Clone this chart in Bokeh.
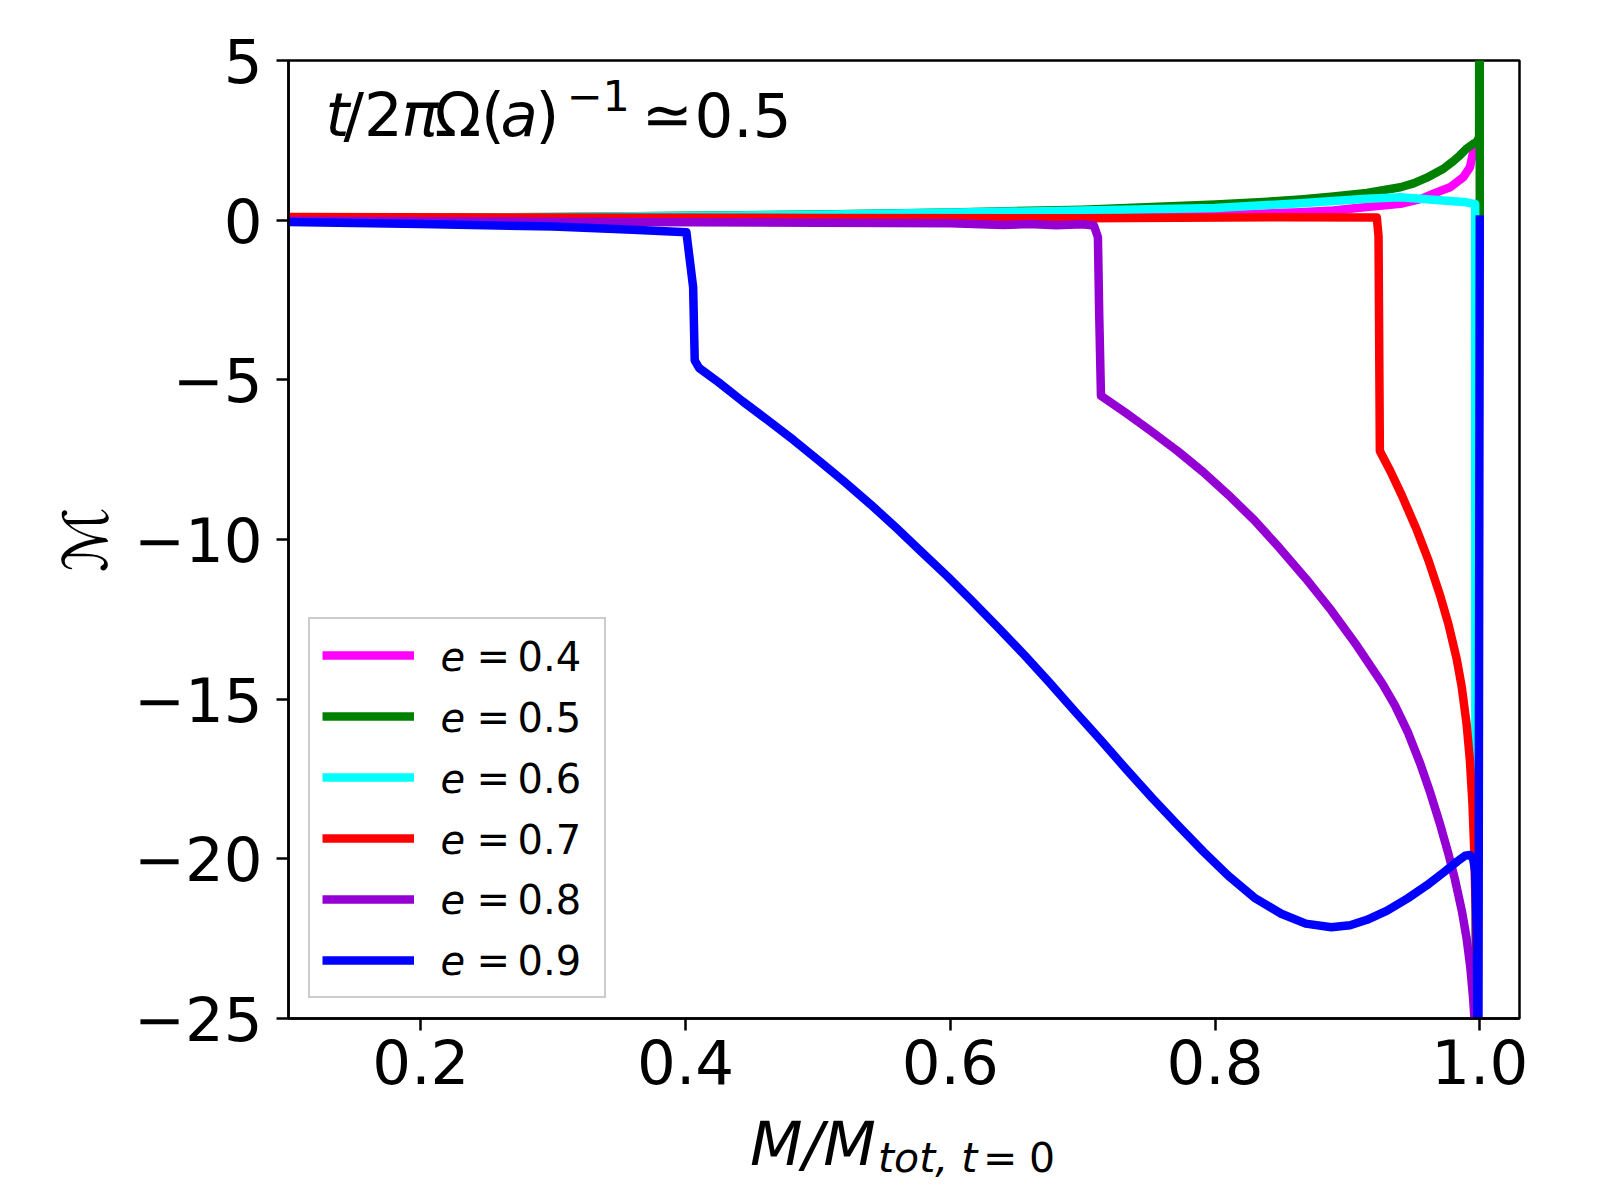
from bokeh.plotting import figure
from bokeh.models import FixedTicker, Label, Legend, LegendItem, Range1d, Div
from bokeh.layouts import column
from bokeh.embed import file_html
from bokeh.resources import INLINE

# ---------------- data ----------------
e_values = ["0.4", "0.5", "0.6", "0.7", "0.8", "0.9"]
e_colors = ["#ff00ff", "#008000", "#00ffff", "#ff0000", "#9400d3", "#0000ff"]

m04_x = [0.1, 0.4, 0.6, 0.75, 0.82, 0.8644, 0.8895, 0.9147, 0.94, 0.955, 0.965, 0.9775, 0.9876, 0.9926, 0.995, 0.997]
m04_y = [0.02, 0.05, 0.08, 0.13, 0.18, 0.25, 0.30, 0.41, 0.51, 0.66, 0.83, 1.03, 1.35, 1.66, 2.13, 2.40]

m05_x = [0.1, 0.3, 0.5, 0.6, 0.7, 0.8, 0.84, 0.8644, 0.8895, 0.9147, 0.94, 0.95, 0.96, 0.9725, 0.98, 0.985, 0.99,
         0.995, 0.9975, 0.9995, 0.9998, 1.0]
m05_y = [0.03, 0.10, 0.18, 0.24, 0.33, 0.49, 0.58, 0.65, 0.74, 0.85, 1.03, 1.15, 1.33, 1.61, 1.85, 2.03, 2.24,
         2.39, 2.44, 2.6, 40.0, 0.1]

m06_x = [0.1, 0.3, 0.5, 0.7, 0.8, 0.8644, 0.8895, 0.9147, 0.94, 0.965, 0.99, 0.9965, 0.9968]
m06_y = [0.05, 0.10, 0.17, 0.30, 0.38, 0.53, 0.60, 0.67, 0.72, 0.64, 0.56, 0.50, -30.0]

m07_x = [0.1, 0.3, 0.5, 0.7, 0.85, 0.9222, 0.9235, 0.9245, 0.9322, 0.9411, 0.9524, 0.9612, 0.970, 0.9763, 0.9826,
         0.9863, 0.9901, 0.9925, 0.9945, 0.9958, 0.9968, 0.9978, 0.9985]
m07_y = [0.10, 0.08, 0.07, 0.06, 0.09, 0.08, -0.5, -7.23, -7.84, -8.62, -9.70, -10.65, -11.75, -12.65, -13.75,
         -14.6, -15.8, -16.9, -18.3, -19.7, -21.5, -26.0, -30.0]

m08_x = [0.1, 0.3, 0.5, 0.6, 0.64, 0.66, 0.68, 0.70, 0.7085, 0.7115, 0.7125, 0.7138, 0.733, 0.7524, 0.772, 0.7911,
         0.810, 0.8298, 0.849, 0.8685, 0.8878, 0.9071, 0.9265, 0.936, 0.9458, 0.955, 0.9625, 0.970, 0.976, 0.981,
         0.9864, 0.990, 0.9928, 0.995, 0.997, 0.998]
m08_y = [-0.02, -0.05, -0.08, -0.10, -0.15, -0.12, -0.16, -0.13, -0.17, -0.53, -3.0, -5.50, -6.05, -6.63, -7.24,
         -7.89, -8.60, -9.40, -10.28, -11.22, -12.22, -13.32, -14.52, -15.2, -16.05, -17.02, -17.92, -18.92, -19.8,
         -20.6, -21.62, -22.48, -23.38, -24.38, -25.68, -27.0]

m09_x = [0.1, 0.2, 0.3, 0.36, 0.4006, 0.4057, 0.4069, 0.4102, 0.425, 0.443, 0.462, 0.4817, 0.501, 0.5204, 0.540,
         0.559, 0.578, 0.5977, 0.617, 0.6364, 0.656, 0.6751, 0.694, 0.7138, 0.733, 0.7524, 0.772, 0.7911, 0.810,
         0.8298, 0.850, 0.8685, 0.8878, 0.902, 0.9148, 0.930, 0.9458, 0.960, 0.9728, 0.983, 0.989, 0.9925, 0.995,
         0.9965, 0.9978, 0.9988, 1.0]
m09_y = [-0.06, -0.12, -0.2, -0.3, -0.38, -2.1, -4.39, -4.63, -5.08, -5.67, -6.26, -6.89, -7.54, -8.21, -8.91,
         -9.63, -10.38, -11.15, -11.95, -12.77, -13.62, -14.49, -15.38, -16.29, -17.20, -18.09, -18.95, -19.77, -20.53,
         -21.22, -21.72, -22.03, -22.14, -22.08, -21.91, -21.62, -21.23, -20.83, -20.42, -20.08, -19.90, -19.88, -20.0,
         -20.4, -22.5, -30.0, 0.15]

series_x = [m04_x, m05_x, m06_x, m07_x, m08_x, m09_x]
series_y = [m04_y, m05_y, m06_y, m07_y, m08_y, m09_y]

x_ticks = [0.2, 0.4, 0.6, 0.8, 1.0]
x_tick_labels = ["0.2", "0.4", "0.6", "0.8", "1.0"]
y_ticks = [-25, -20, -15, -10, -5, 0, 5]
y_tick_labels = ["\u221225", "\u221220", "\u221215", "\u221210", "\u22125", "0", "5"]

FONT = "DejaVu Sans"

# ---------------- figure ----------------
W = 1592
BL, BR, BT, BB = 288, 73, 60, 100
FRAME_H = 958
H = BT + FRAME_H + BB
p = figure(width=W, height=H, output_backend="svg", toolbar_location=None,
           x_range=Range1d(0.1, 1.03), y_range=Range1d(-25, 5),
           min_border_left=BL, min_border_right=BR, min_border_top=BT, min_border_bottom=BB)
p.xgrid.visible = False
p.ygrid.visible = False
p.background_fill_color = "white"
p.border_fill_color = "white"
p.outline_line_color = "black"
p.outline_line_width = 2.5
p.outline_line_alpha = 1.0

p.xaxis.ticker = FixedTicker(ticks=x_ticks)
p.yaxis.ticker = FixedTicker(ticks=y_ticks)
p.xaxis.major_label_overrides = dict(zip(x_ticks, x_tick_labels))
p.yaxis.major_label_overrides = dict(zip(y_ticks, y_tick_labels))
for ax in (p.xaxis[0], p.yaxis[0]):
    ax.major_tick_out = 12
    ax.major_tick_in = 0
    ax.minor_tick_out = 0
    ax.minor_tick_in = 0
    ax.major_tick_line_width = 2.5
    ax.major_tick_line_color = "black"
    ax.axis_line_width = 2.5
    ax.axis_line_color = "black"
    ax.major_label_text_font = FONT
    ax.major_label_text_font_size = "61px"
    ax.major_label_text_color = "black"
p.xaxis.major_label_standoff = 8
p.yaxis.major_label_standoff = 14

# y-axis label: script M
p.yaxis.axis_label = "\u2133"
p.yaxis.axis_label_text_font = FONT
p.yaxis.axis_label_text_font_size = "61px"
p.yaxis.axis_label_text_font_style = "normal"
p.yaxis.axis_label_text_color = "black"
p.yaxis.axis_label_standoff = 10

renderers = []
for xs, ys, c in zip(series_x, series_y, e_colors):
    r = p.line(xs, ys, line_color=c, line_width=8.5, line_join="round")
    renderers.append(r)

# legend box and line swatches from Bokeh; the mixed-style texts are drawn separately
legend = Legend(items=[LegendItem(label=" ", renderers=[r]) for r in renderers],
                location=(20, 20), margin=0, padding=12, spacing=13,
                glyph_width=92, glyph_height=48, label_height=48, label_width=149, label_standoff=29,
                label_text_font=FONT, label_text_font_size="40px", label_text_color="black",
                border_line_color="#cccccc", border_line_width=2, border_line_alpha=1.0,
                background_fill_color="white", background_fill_alpha=0.0)
p.add_layout(legend)

# ---------------- texts in the frame ----------------
FL, FB = BL, BT + FRAME_H   # frame left / bottom in page px
BASE_FIX = 0.38             # empirical baseline correction (fraction of font size)


def add_text(txt, sx, sy, fs, style="normal"):
    p.add_layout(Label(x=sx - FL, y=FB - (sy - BASE_FIX * fs), x_units="screen", y_units="screen", text=txt,
                       text_font=FONT, text_font_size=f"{fs}px", text_font_style=style,
                       text_color="black", text_align="left", text_baseline="alphabetic",
                       level="overlay"))


# legend texts: e = 0.4 ... (italic e)
row_base = 670.5
row_step = 60.9
for i, val in enumerate(e_values):
    yb = row_base + i * row_step
    add_text("e", 440, yb, 40, "italic")
    add_text("=", 476, yb, 40)
    add_text(val, 517, yb, 40)

# annotation: t/2πΩ(a)^−1 ≃ 0.5
tb = 136.7
add_text("t", 325, tb, 61, "italic")
add_text("/2", 343, tb, 61)
add_text("\u03c0", 401, tb, 61, "italic")
add_text("\u03a9(", 434, tb, 61)
add_text("a", 500, tb, 61, "italic")
add_text(")", 535, tb, 61)
add_text("\u22121", 566, 111.7, 43)
add_text("\u2243", 641, tb, 61)
add_text("0.5", 694, tb, 61)

# ---------------- x-axis label below the figure: M/M_{tot, t=0} ----------------
span = "position:absolute; white-space:nowrap; font-family:'DejaVu Sans'; color:black;"
xlabel_html = (
    f'<div style="position:relative; width:{W}px; height:74px;">'
    f'<span style="{span} left:750px; top:6px; font-size:61px; line-height:40px; font-style:italic;">M/M</span>'
    f'<span style="{span} left:878px; top:25px; font-size:41px; line-height:30px; font-style:italic;">tot, t</span>'
    f'<span style="{span} left:983px; top:25px; font-size:41px; line-height:30px;">=</span>'
    f'<span style="{span} left:1029px; top:25px; font-size:41px; line-height:30px;">0</span>'
    '</div>'
)
xlabel = Div(text=xlabel_html, width=W, height=74, margin=(0, 0, 0, 0))

layout = column(p, xlabel, spacing=0)
open("out.html", "w").write(file_html(layout, INLINE))
